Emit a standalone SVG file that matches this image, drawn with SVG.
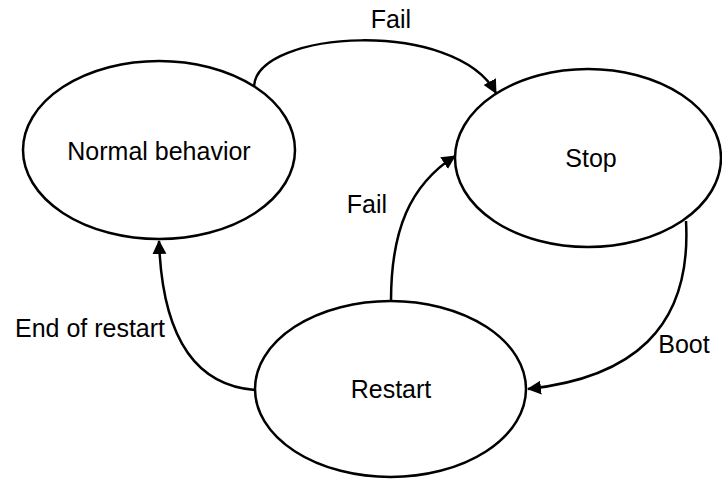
<svg xmlns="http://www.w3.org/2000/svg" width="722" height="479" viewBox="0 0 722 479">
  <style>
    .node { fill: #ffffff; stroke: #000000; stroke-width: 2.5; }
    .edge { fill: none; stroke: #000000; stroke-width: 2.5; marker-end: url(#arrow); }
    .label { font-family: "Liberation Sans", Arial, sans-serif; font-size: 25px; fill: #000000; text-anchor: middle; }
  </style>
  <defs>
    <marker id="arrow" markerUnits="userSpaceOnUse" markerWidth="16" markerHeight="16" refX="13" refY="7" orient="auto">
      <path d="M0,0 L14,7 L0,14 z" fill="#000000"/>
    </marker>
  </defs>
  <rect width="722" height="479" fill="#ffffff"/>
  <g id="edges">
    <g id="edge-normal-stop">
      <path class="edge" d="M254,86 C258,30 455,18 496,93"/>
      <text class="label" x="391" y="28">Fail</text>
    </g>
    <g id="edge-restart-stop">
      <path class="edge" d="M391,301 C391,230 410,185 455,156"/>
      <text class="label" x="367" y="213">Fail</text>
    </g>
    <g id="edge-stop-restart">
      <path class="edge" d="M686,221 C692,330 630,378 528,389"/>
      <text class="label" x="684" y="353">Boot</text>
    </g>
    <g id="edge-restart-normal">
      <path class="edge" d="M255,390 C190,385 162,330 159,241"/>
      <text class="label" x="90" y="337">End of restart</text>
    </g>
  </g>
  <g id="node-normal">
    <ellipse class="node" cx="159" cy="150" rx="136" ry="89"/>
    <text class="label" x="159" y="160">Normal behavior</text>
  </g>
  <g id="node-stop">
    <ellipse class="node" cx="588" cy="158" rx="133" ry="89"/>
    <text class="label" x="591" y="167">Stop</text>
  </g>
  <g id="node-restart">
    <ellipse class="node" cx="390.5" cy="389" rx="135.5" ry="88"/>
    <text class="label" x="391" y="398">Restart</text>
  </g>
</svg>
